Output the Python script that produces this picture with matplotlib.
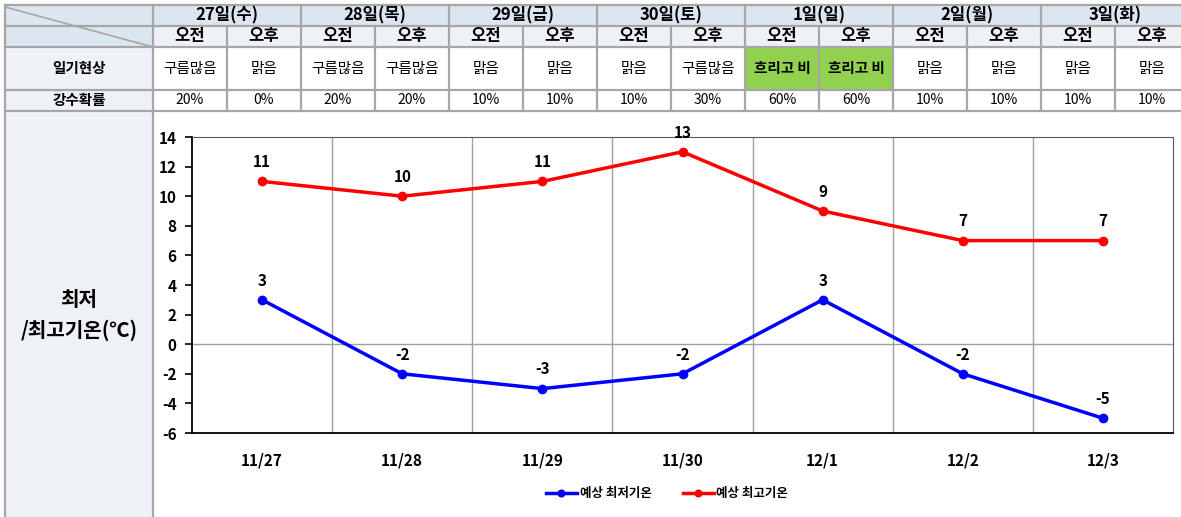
import matplotlib
matplotlib.use("Agg")
import matplotlib.pyplot as plt
from matplotlib.patches import Rectangle

plt.rcParams['font.family'] = ['Noto Sans CJK KR', 'DejaVu Sans']
plt.rcParams['axes.unicode_minus'] = False

# data
days = ['27일(수)', '28일(목)', '29일(금)', '30일(토)', '1일(일)', '2일(월)', '3일(화)']
halves = ['오전', '오후']
weather = ['구름많음', '맑음', '구름많음', '구름많음', '맑음', '맑음', '맑음', '구름많음',
           '흐리고 비', '흐리고 비', '맑음', '맑음', '맑음', '맑음']
precip = ['20%', '0%', '20%', '20%', '10%', '10%', '10%', '30%',
          '60%', '60%', '10%', '10%', '10%', '10%']
categories = ['11/27', '11/28', '11/29', '11/30', '12/1', '12/2', '12/3']
low = [3, -2, -3, -2, 3, -2, -5]
high = [11, 10, 11, 13, 9, 7, 7]
row_labels = ['일기현상', '강수확률']
side_label = '최저\n/최고기온(℃)'
legend_labels = ['예상 최저기온', '예상 최고기온']

W, H = 1181, 517
fig = plt.figure(figsize=(W / 100, H / 100), dpi=100)
bg = fig.add_axes([0, 0, 1, 1])
bg.set_xlim(0, W)
bg.set_ylim(H, 0)
bg.axis('off')

grid_c = '#a6a6a6'
head1 = '#dce6f0'
head2 = '#eef2f6'
green = '#92d050'

x0, xl = 5, 153
sub_w = 74
rows = [5, 26, 47, 90, 111, H + 2]

# backgrounds
bg.add_patch(Rectangle((x0, rows[0]), xl - x0, rows[2] - rows[0], color=head1, lw=0))
bg.add_patch(Rectangle((x0, rows[2]), xl - x0, H - rows[2], color=head2, lw=0))
bg.add_patch(Rectangle((xl, rows[0]), W - xl, rows[1] - rows[0], color=head1, lw=0))
bg.add_patch(Rectangle((xl, rows[1]), W - xl, rows[2] - rows[1], color=head2, lw=0))
for i, w in enumerate(weather):
    if w == '흐리고 비':
        bg.add_patch(Rectangle((xl + i * sub_w, rows[2]), sub_w, rows[3] - rows[2],
                               color=green, lw=0))

# grid lines
for y in rows[:5]:
    bg.plot([x0, W], [y, y], color=grid_c, lw=1.6)
bg.plot([x0, x0], [rows[0], H], color=grid_c, lw=1.6)
bg.plot([xl, xl], [rows[0], H], color=grid_c, lw=1.6)
for i in range(1, 15):
    x = xl + i * sub_w
    top = rows[0] if i % 2 == 0 else rows[1]
    bg.plot([x, x], [top, rows[4]], color=grid_c, lw=1.6)
bg.plot([x0, xl], [rows[0] + 2, rows[2]], color=grid_c, lw=1.2)

# table text
for i, d in enumerate(days):
    bg.text(xl + (2 * i + 1) * sub_w, (rows[0] + rows[1]) / 2, d,
            ha='center', va='center', fontsize=12, fontweight='bold')
for i in range(14):
    cx = xl + (i + 0.5) * sub_w
    bg.text(cx, (rows[1] + rows[2]) / 2, halves[i % 2],
            ha='center', va='center', fontsize=12, fontweight='bold')
    bold = weather[i] == '흐리고 비'
    bg.text(cx, (rows[2] + rows[3]) / 2, weather[i], ha='center', va='center',
            fontsize=10.5, fontweight='bold' if bold else 'normal')
    bg.text(cx, (rows[3] + rows[4]) / 2, precip[i], ha='center', va='center',
            fontsize=10)
for j, lab in enumerate(row_labels):
    bg.text((x0 + xl) / 2, (rows[2 + j] + rows[3 + j]) / 2, lab,
            ha='center', va='center', fontsize=10.5, fontweight='bold')
bg.text((x0 + xl) / 2, 315, side_label, ha='center', va='center',
        fontsize=14.5, fontweight='bold', linespacing=1.5)

# chart
L, R, T, B = 192, 1173, 137, 433
ax = fig.add_axes([L / W, 1 - B / H, (R - L) / W, (B - T) / H])
xs = list(range(len(categories)))
ax.plot(xs, low, color='#0000ff', lw=2.5, marker='o', ms=6, label=legend_labels[0], zorder=3)
ax.plot(xs, high, color='#ff0000', lw=2.5, marker='o', ms=6, label=legend_labels[1], zorder=3)
for x, v in zip(xs, low):
    ax.annotate(str(v), (x, v), xytext=(0, 8), textcoords='offset points',
                ha='center', va='bottom', fontsize=11, fontweight='bold')
for x, v in zip(xs, high):
    ax.annotate(str(v), (x, v), xytext=(0, 8), textcoords='offset points',
                ha='center', va='bottom', fontsize=11, fontweight='bold')

ax.set_xlim(-0.5, len(categories) - 0.5)
ax.set_ylim(-6, 14)
ax.set_yticks(range(-6, 15, 2))
ax.set_xticks(xs)
ax.set_xticklabels(categories, fontsize=11, fontweight='bold')
for t in ax.get_yticklabels():
    t.set_fontweight('bold')
    t.set_fontsize(11)
ax.tick_params(axis='x', length=0, pad=14)
ax.tick_params(axis='y', direction='out', length=5, width=1.2, color='black', pad=6)
for x in range(1, len(categories)):
    ax.axvline(x - 0.5, color='#a0a0a0', lw=1, zorder=1)
ax.axhline(0, color='#a0a0a0', lw=1, zorder=1)
ax.spines['left'].set_color('black')
ax.spines['left'].set_linewidth(1.3)
ax.spines['bottom'].set_color('black')
ax.spines['bottom'].set_linewidth(1.3)
ax.spines['right'].set_color('#595959')
ax.spines['top'].set_color('#595959')

fig.legend(loc='center', bbox_to_anchor=(667 / W, 1 - 494 / H), ncol=2, frameon=False,
           prop={'weight': 'bold', 'size': 9}, handlelength=2.5, columnspacing=2.5,
           handletextpad=0.2, markerscale=0.8)

fig.savefig('out.png', dpi=100)
